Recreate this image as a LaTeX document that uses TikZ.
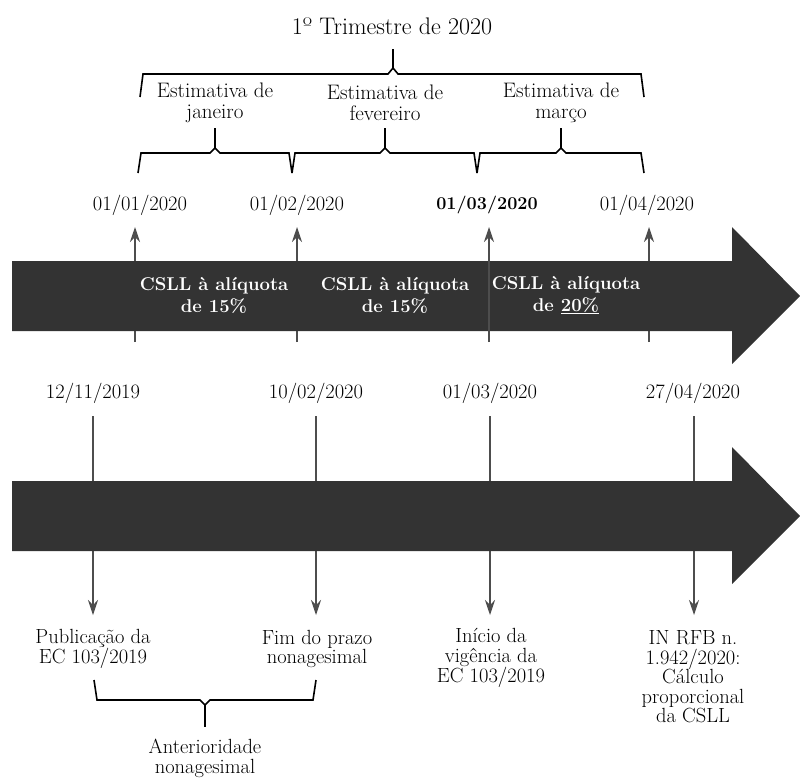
\documentclass[tikz,border=0pt]{standalone}
\usetikzlibrary{arrows.meta}
\definecolor{bargray}{HTML}{333333}
\definecolor{linegray}{HTML}{4D4D4D}
\tikzstyle{datetext} = [font=\fontsize{20.5}{20.5}\selectfont, inner sep=0pt]
\tikzstyle{eventtext} = [align=center, font=\fontsize{20.5}{19.5}\selectfont, inner sep=0pt]
\tikzstyle{bartext} = [align=center, text=white, font=\fontsize{18.5}{22}\selectfont\bfseries, inner sep=0pt]
\tikzstyle{brace} = [line width=1.6pt, line join=miter]
\tikzstyle{arrow} = [line width=1.1pt, draw=linegray, -{Stealth[length=15pt,width=10pt,inset=5pt]}]
\tikzstyle{timeline} = [fill=bargray]
\begin{document}
\begin{tikzpicture}[x=1pt, y=-1pt]
    \useasboundingbox (0,0) rectangle (800,780);

    % trimester brace
    \node (title) [eventtext, font=\fontsize{24}{24}\selectfont] at (392,26) {1º Trimestre de 2020};
    \draw [brace] (140,97) -- (143,74) -- (388,74) -- (393,68) -- (398,74) -- (641,74) -- (644,97);
    \draw [brace] (393,68) -- (393,49);

    \node (est_jan) [eventtext, font=\fontsize{21}{20.5}\selectfont] at (215,103) {Estimativa de\\janeiro};
    \node (est_feb) [eventtext, font=\fontsize{21}{20.5}\selectfont] at (385,103) {Estimativa de\\fevereiro};
    \node (est_mar) [eventtext, font=\fontsize{21}{20.5}\selectfont] at (561,103) {Estimativa de\\março};

    % month braces
    \draw [brace] (138,173) -- (141,153) -- (210,153) -- (215,148) -- (220,153) -- (289,153) -- (292,173);
    \draw [brace] (215,148) -- (215,128);
    \draw [brace] (292,173) -- (295,153) -- (380,153) -- (385,148) -- (390,153) -- (474,153) -- (477,173);
    \draw [brace] (385,148) -- (385,128);
    \draw [brace] (477,173) -- (480,153) -- (556,153) -- (561,148) -- (566,153) -- (641,153) -- (644,173);
    \draw [brace] (561,148) -- (561,128);

    % first timeline
    \node (d_jan) [datetext] at (140,205) {01/01/2020};
    \node (d_feb) [datetext] at (297,205) {01/02/2020};
    \node (d_mar) [datetext, font=\fontsize{18}{18}\selectfont\bfseries] at (487,205) {01/03/2020};
    \node (d_apr) [datetext] at (647,205) {01/04/2020};

    \coordinate (up_jan) at (135,342);
    \coordinate (up_feb) at (297,342);
    \coordinate (up_mar) at (489,342);
    \coordinate (up_apr) at (649,342);
    \coordinate (tip_jan) at (135,227);
    \coordinate (tip_feb) at (297,227);
    \coordinate (tip_mar) at (489,227);
    \coordinate (tip_apr) at (649,227);

    \draw [arrow] (up_jan) -- (tip_jan);
    \draw [arrow] (up_feb) -- (tip_feb);
    \draw [arrow] (up_apr) -- (tip_apr);

    \fill [timeline] (12,261) -- (732,261) -- (732,227) -- (800,296) -- (732,364) -- (732,331) -- (12,331) -- cycle;
    \draw [arrow] (up_mar) -- (tip_mar);

    \node (rate_jan) [bartext] at (214,295) {CSLL à alíquota\\de 15\%};
    \node (rate_feb) [bartext] at (395,295) {CSLL à alíquota\\de 15\%};
    \node (rate_mar) [bartext] at (566,295) {CSLL à alíquota\\de \underline{20\%}};

    % second timeline
    \node (d_pub) [datetext] at (93,393) {12/11/2019};
    \node (d_end) [datetext] at (316,393) {10/02/2020};
    \node (d_start) [datetext] at (490,393) {01/03/2020};
    \node (d_in) [datetext] at (693,393) {27/04/2020};

    \coordinate (down_pub) at (93,416);
    \coordinate (down_end) at (316,416);
    \coordinate (down_start) at (490,416);
    \coordinate (down_in) at (694,416);

    \node (ev_pub) [eventtext] at (93,649) {Publicação da\\EC 103/2019};
    \node (ev_end) [eventtext] at (317,649) {Fim do prazo\\nonagesimal};
    \node (ev_start) [eventtext] at (491,658) {Início da\\vigência da\\EC 103/2019};
    \node (ev_in) [eventtext] at (693,677) {IN RFB n.\\1.942/2020:\\Cálculo\\proporcional\\da CSLL};

    \draw [arrow] (down_pub) -- (down_pub |- 0,615);
    \draw [arrow] (down_end) -- (down_end |- 0,615);
    \draw [arrow] (down_start) -- (down_start |- 0,615);
    \draw [arrow] (down_in) -- (down_in |- 0,615);

    \fill [timeline] (12,481) -- (732,481) -- (732,447) -- (800,516) -- (732,584) -- (732,551) -- (12,551) -- cycle;

    % nonagesimal brace
    \draw [brace] (94,680) -- (97,700) -- (200,700) -- (205,705) -- (210,700) -- (313,700) -- (316,680);
    \draw [brace] (205,705) -- (205,727);
    \node (anterior) [eventtext, font=\fontsize{20.5}{20}\selectfont] at (205,758) {Anterioridade\\nonagesimal};

\end{tikzpicture}
\end{document}
